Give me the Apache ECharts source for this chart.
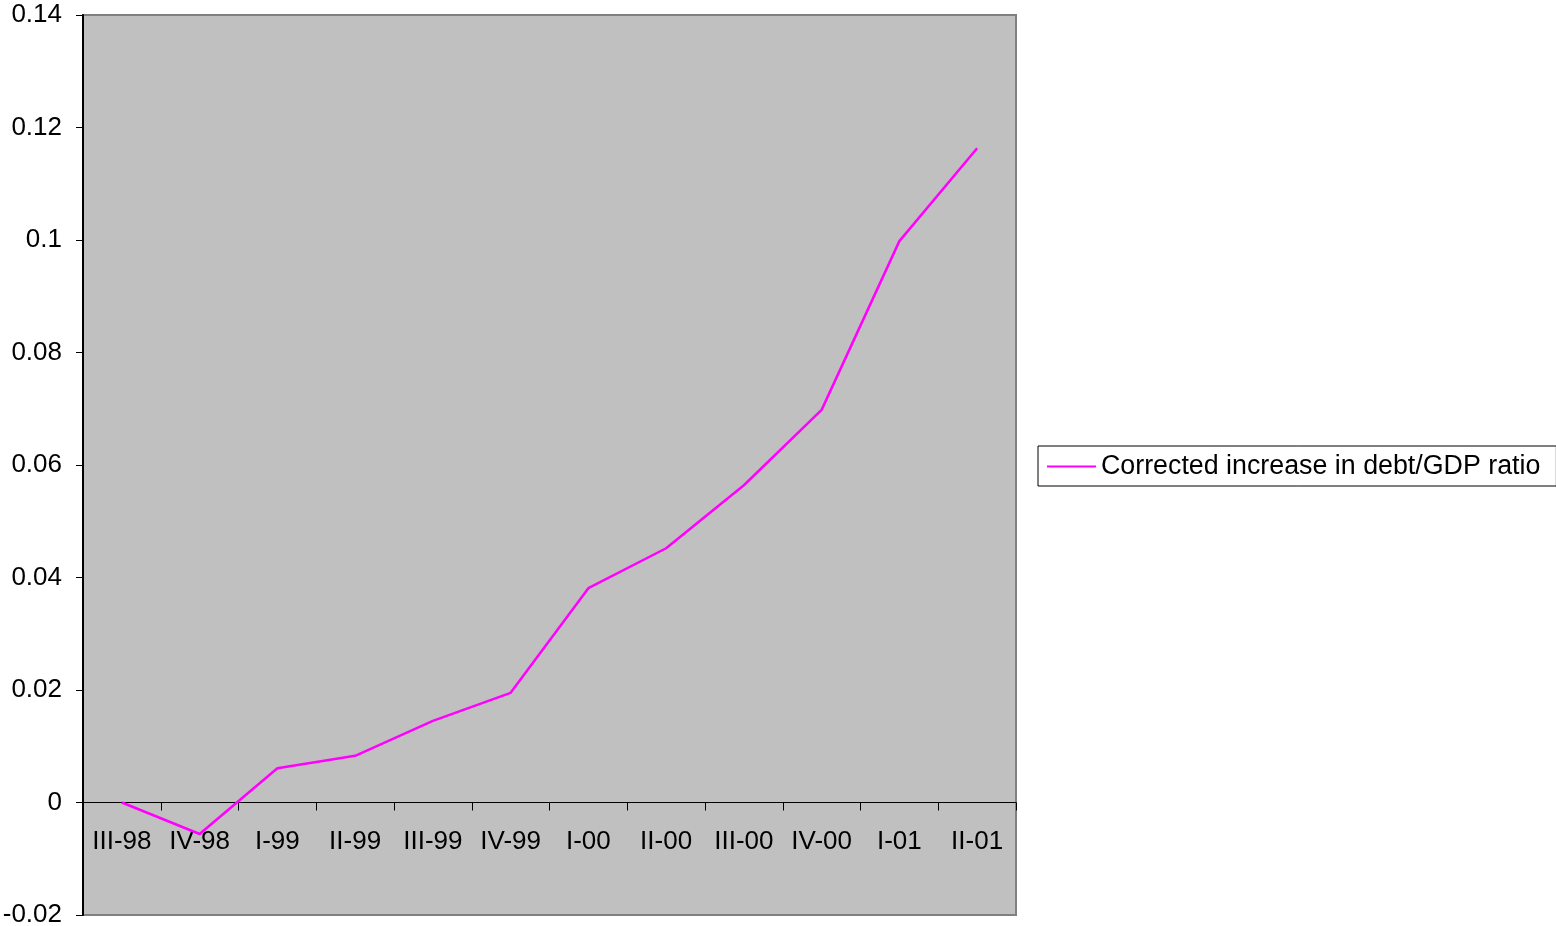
<!DOCTYPE html>
<html>
<head>
<meta charset="utf-8">
<script src="https://cdn.jsdelivr.net/npm/echarts@6/dist/echarts.min.js"></script>
<style>html,body{margin:0;padding:0;background:#fff;}#c{width:1556px;height:926px;}</style>
</head>
<body>
<div id="c"></div>
<script>
const categories = ['III-98','IV-98','I-99','II-99','III-99','IV-99','I-00','II-00','III-00','IV-00','I-01','II-01'];
const seriesName = 'Corrected increase in debt/GDP ratio';
const values = [0, -0.0056, 0.0061, 0.0083, 0.0145, 0.0195, 0.0381, 0.0452, 0.0564, 0.0698, 0.0998, 0.1163];
const yMin = -0.02, yMax = 0.14, yStep = 0.02;

const gridH = 900;
const zeroOffset = -gridH * (0 - yMin) / (yMax - yMin);

const chart = echarts.init(document.getElementById('c'));
const font = '"Liberation Sans", Arial, sans-serif';
chart.setOption({
  animation: false,
  backgroundColor: '#ffffff',
  grid: {
    left: 83, top: 15, width: 933, height: gridH,
    containLabel: false, outerBoundsMode: 'none',
    show: true, backgroundColor: '#c0c0c0', borderColor: '#808080', borderWidth: 2
  },
  legend: {
    left: 1038, top: 446,
    orient: 'vertical',
    padding: [7, 16, 6, 9],
    borderColor: '#000', borderWidth: 1,
    backgroundColor: '#fff',
    itemWidth: 49, itemHeight: 2, itemGap: 6,
    icon: 'rect',
    textStyle: { fontFamily: font, fontSize: 26.8, color: '#000' },
    data: [seriesName]
  },
  xAxis: {
    type: 'category',
    data: categories,
    boundaryGap: true,
    position: 'bottom',
    offset: zeroOffset,
    axisLine: { onZero: false, lineStyle: { color: '#000', width: 1 } },
    axisTick: { show: true, length: 8, interval: 0, lineStyle: { color: '#000' } },
    axisLabel: { interval: 0, margin: 26, fontFamily: font, fontSize: 26, color: '#000' },
    splitLine: { show: false }
  },
  yAxis: {
    type: 'value',
    min: yMin, max: yMax, interval: yStep,
    axisLine: { show: true, lineStyle: { color: '#000', width: 2 } },
    axisTick: { show: true, length: 7, lineStyle: { color: '#000' } },
    axisLabel: { margin: 21, fontFamily: font, fontSize: 26, color: '#000' },
    splitLine: { show: false }
  },
  series: [{
    name: seriesName,
    type: 'line',
    data: values,
    symbol: 'none',
    lineStyle: { color: '#ff00ff', width: 2.5 },
    itemStyle: { color: '#ff00ff' }
  }]
});
</script>
</body>
</html>
